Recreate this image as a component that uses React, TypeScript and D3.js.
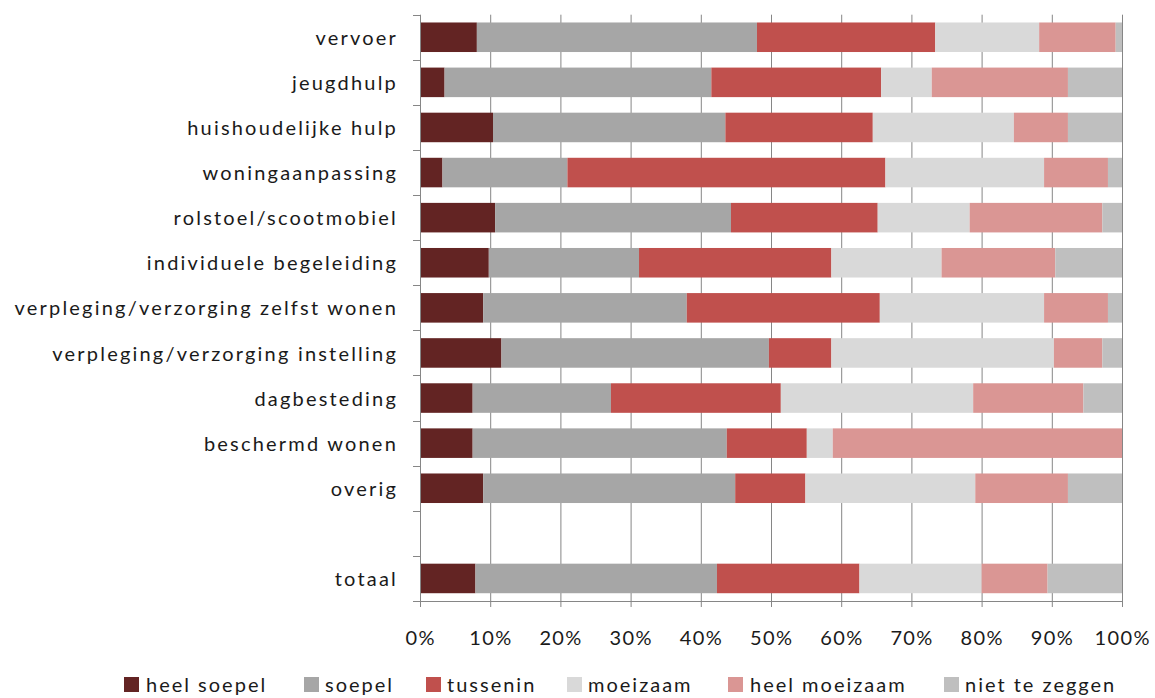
import React from "react";
import * as d3 from "d3";

const categories = [
  "vervoer",
  "jeugdhulp",
  "huishoudelijke hulp",
  "woningaanpassing",
  "rolstoel/scootmobiel",
  "individuele begeleiding",
  "verpleging/verzorging zelfst wonen",
  "verpleging/verzorging instelling",
  "dagbesteding",
  "beschermd wonen",
  "overig",
  "",
  "totaal",
];

const seriesNames = ["heel soepel", "soepel", "tussenin", "moeizaam", "heel moeizaam", "niet te zeggen"];
const seriesColors = ["#632423", "#A6A6A6", "#C0504D", "#D9D9D9", "#DA9694", "#BFBFBF"];

// values in % per category (same order as categories), blank row = null
const heelSoepel = [8.1, 3.5, 10.4, 3.2, 10.7, 9.8, 9.0, 11.6, 7.5, 7.5, 9.0, null, 7.9];
const soepel = [39.9, 38.0, 33.1, 17.8, 33.6, 21.4, 29.0, 38.1, 19.7, 36.2, 35.9, null, 34.4];
const tussenin = [25.4, 24.2, 21.0, 45.3, 20.9, 27.4, 27.5, 8.9, 24.2, 11.4, 10.0, null, 20.3];
const moeizaam = [14.8, 7.2, 20.1, 22.6, 13.1, 15.7, 23.4, 31.7, 27.4, 3.7, 24.2, null, 17.4];
const heelMoeizaam = [10.9, 19.4, 7.7, 9.1, 18.9, 16.2, 9.1, 6.9, 15.7, 41.2, 13.2, null, 9.4];
const nietTeZeggen = [0.9, 7.7, 7.7, 2.0, 2.8, 9.5, 2.0, 2.8, 5.5, 0.0, 7.7, null, 10.6];

const xTicks = [0, 10, 20, 30, 40, 50, 60, 70, 80, 90, 100];

const FONT = "Lato, 'Open Sans', sans-serif";

export default function App() {
  const width = 1155;
  const height = 698;
  const left = 420;
  const right = 1122;
  const top = 14.7;
  const bottom = 601;

  const x = d3.scaleLinear().domain([0, 100]).range([left, right]);
  const ids = categories.map((c, i) => `${i}`);
  const y = d3
    .scaleBand<string>()
    .domain(ids)
    .range([top, bottom])
    .paddingInner(0.345)
    .paddingOuter(0.1725);

  const seriesData = [heelSoepel, soepel, tussenin, moeizaam, heelMoeizaam, nietTeZeggen];
  const rows = categories.map((c, i) => {
    const o: any = { id: `${i}` };
    seriesNames.forEach((s, k) => {
      o[s] = seriesData[k][i] ?? 0;
    });
    return o;
  });
  const stacked = d3.stack<any>().keys(seriesNames)(rows);

  const step = y.step();
  const boundaries = d3.range(categories.length + 1).map((i) => top + i * step);

  const legendItems = [
    { sq: 124, tx: 146 },
    { sq: 304, tx: 325 },
    { sq: 426, tx: 447 },
    { sq: 567, tx: 588 },
    { sq: 728, tx: 750 },
    { sq: 944, tx: 965 },
  ];

  return (
    <svg
      width={width}
      height={height}
      style={{ position: "absolute", left: 0, top: 0, background: "#fff" }}
      fontFamily={FONT}
    >
      <rect x={0} y={0} width={width} height={height} fill="#fff" />
      {/* gridlines */}
      {xTicks.slice(1).map((t) => (
        <line key={t} x1={x(t) + 0.5} x2={x(t) + 0.5} y1={top} y2={bottom} stroke="#868686" strokeWidth={1} />
      ))}
      {/* bars */}
      {stacked.map((layer, k) => (
        <g key={seriesNames[k]} fill={seriesColors[k]}>
          {layer.map((d, i) =>
            categories[i] === "" || d[1] - d[0] <= 0 ? null : (
              <rect
                key={i}
                x={x(d[0])}
                width={x(d[1]) - x(d[0])}
                y={y(ids[i])!}
                height={y.bandwidth()}
              />
            )
          )}
        </g>
      ))}
      {/* y axis */}
      <line x1={left + 0.5} x2={left + 0.5} y1={top} y2={bottom + 0.5} stroke="#868686" />
      {boundaries.map((b, i) => (
        <line key={i} x1={left - 7} x2={left + 0.5} y1={Math.round(b) + 0.5} y2={Math.round(b) + 0.5} stroke="#868686" />
      ))}
      {/* x axis */}
      <line x1={left} x2={right + 0.5} y1={Math.round(bottom) + 0.5} y2={Math.round(bottom) + 0.5} stroke="#868686" />
      {xTicks.map((t) => (
        <line key={t} x1={x(t) + 0.5} x2={x(t) + 0.5} y1={bottom} y2={bottom + 6} stroke="#868686" />
      ))}
      {xTicks.map((t) => (
        <text key={t} x={x(t) + 0.7} y={645} textAnchor="middle" fontSize={20} letterSpacing={1.4} fill="#1a1a1a">
          {`${t}%`}
        </text>
      ))}
      {/* y labels */}
      {categories.map((c, i) =>
        c === "" ? null : (
          <text
            key={i}
            x={398}
            y={y(ids[i])! + y.bandwidth() / 2}
            dy="0.38em"
            textAnchor="end"
            fontSize={20}
            letterSpacing={2.2}
            fill="#1a1a1a"
          >
            {c}
          </text>
        )
      )}
      {/* legend */}
      {seriesNames.map((s, k) => (
        <g key={s}>
          <rect x={legendItems[k].sq} y={677} width={15} height={15} fill={seriesColors[k]} />
          <text x={legendItems[k].tx} y={692} fontSize={20} letterSpacing={2.0} fill="#1a1a1a">
            {s}
          </text>
        </g>
      ))}
    </svg>
  );
}
